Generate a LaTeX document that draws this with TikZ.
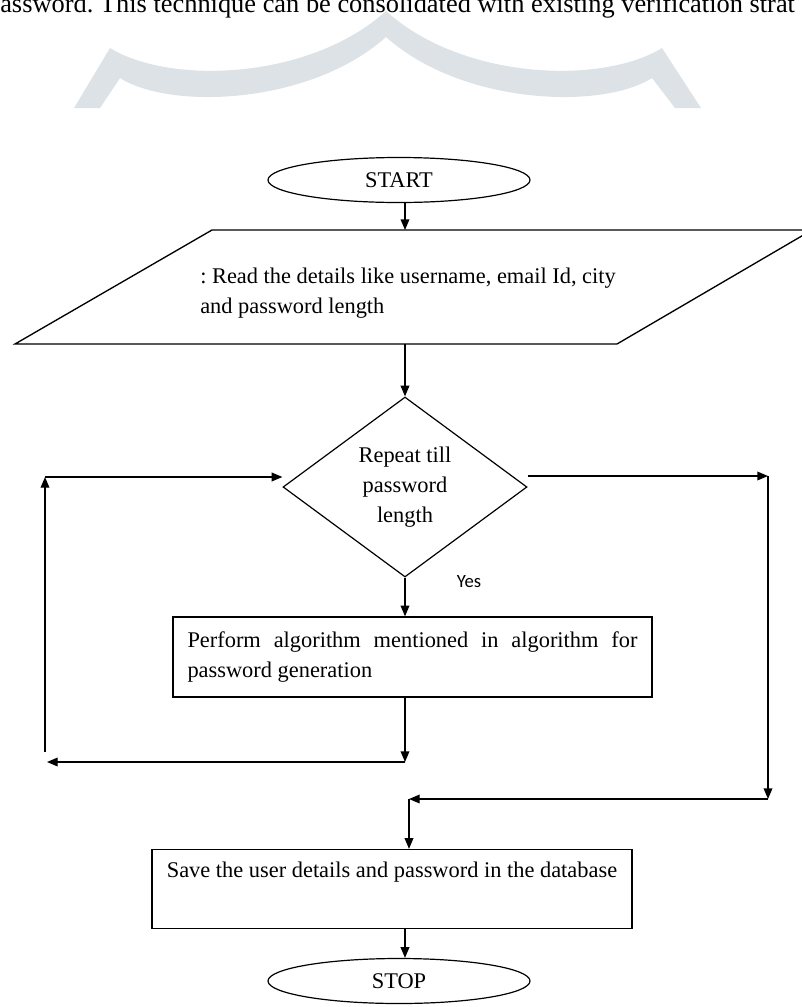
\documentclass[tikz,border=0pt]{standalone}
\usepackage{fontspec}
\setmainfont{Liberation Serif}
\newfontfamily\yesfont{Carlito}
\usetikzlibrary{shapes.geometric, arrows.meta}
\definecolor{wmgray}{RGB}{220,226,229}
\frenchspacing

\begin{document}
\begin{tikzpicture}[x=0.75pt, y=-0.75pt,
  font=\fontsize{16.8}{22}\selectfont,
  terminal/.style={draw, line width=0.9pt, ellipse, minimum width=196.5pt, minimum height=33.75pt, inner sep=0pt},
  iobox/.style={draw, line width=1pt, line join=miter},
  decision/.style={draw, line width=0.9pt, diamond, minimum width=183pt, minimum height=135pt, inner sep=0pt, align=center, font=\fontsize{16.8}{22.5}\selectfont},
  process/.style={draw, line width=1pt, rectangle, minimum width=359.25pt, minimum height=60pt, inner ysep=0pt},
  arr/.style={line width=1pt, -{Triangle[length=8pt, width=6.5pt]}}]

\useasboundingbox (0,0) rectangle (802,1007);
\clip (0,0) rectangle (802,1007);

% watermark and cut line of the page
\fill[wmgray] (74,108) -- (110,48) .. controls (170,85) and (310,80) .. (386,11)
  .. controls (462,80) and (602,85) .. (662,48) -- (701,108) -- (675,108) -- (652,78)
  .. controls (602,110) and (462,105) .. (386,37) .. controls (310,105) and (170,110) .. (120,78)
  -- (100,108) -- cycle;
\node[anchor=base west, inner sep=0pt, font=\fontsize{19.8}{20}\selectfont] (topline) at (0,12)
  {assword. This technique can be consolidated with existing verification strat};

% shapes
\node[terminal] (start) at (399,180) {START};
\draw[iobox] (15,344) -- (617,344) -- (812,230) -- (212,230) -- cycle;
\coordinate (rdtop) at (405,230);
\coordinate (rdbot) at (405,344);
\node[align=left, inner sep=0pt] (read) at (408,293) {: Read the details like username, email Id, city\\and password length};
\node[decision] (rep) at (405,487) {Repeat till\\password\\length};
\node[process, text width=337.5pt, inner xsep=10.875pt, align=justify] (gen) at (412.5,657)
  {Perform algorithm mentioned in algorithm for\linebreak password generation};
\node[process, minimum width=360pt, minimum height=59.25pt, align=center] (save) at (392,889)
  {Save the user details and password in the database\\ \strut};
\node[terminal] (stop) at (399,981) {STOP};
\node[inner sep=0pt, font=\yesfont\fontsize{14}{16}\selectfont] (yes) at (469,582) {Yes};

% loop corners
\coordinate (lbot) at (405,762);
\coordinate (lend) at (47,762);
\coordinate (lup) at (45,752);
\coordinate (ltop) at (45,477);
\coordinate (rtop) at (768,476);
\coordinate (rbot) at (768,799);
\coordinate (mrg) at (409,799);

% connectors
\draw[arr] (start.south -| rdtop) -- (rdtop);
\draw[arr] (rdbot) -- (rep.north);
\draw[arr] (rep.south) -- (gen.north -| rep.south);
\draw[arr] (gen.south -| rep.south) -- (lbot);
\draw[arr] (lbot) -- (lend);
\draw[arr] (lup) -- (ltop);
\draw[arr] (ltop) -- (ltop -| rep.west);
\draw[arr] (rep.east |- rtop) -- (rtop);
\draw[arr] (rtop) -- (rbot);
\draw[arr] (rbot) -- (mrg);
\draw[arr] (mrg) -- (mrg |- save.north);
\draw[arr] (save.south -| rep.south) -- (stop.north -| rep.south);
\end{tikzpicture}
\end{document}
